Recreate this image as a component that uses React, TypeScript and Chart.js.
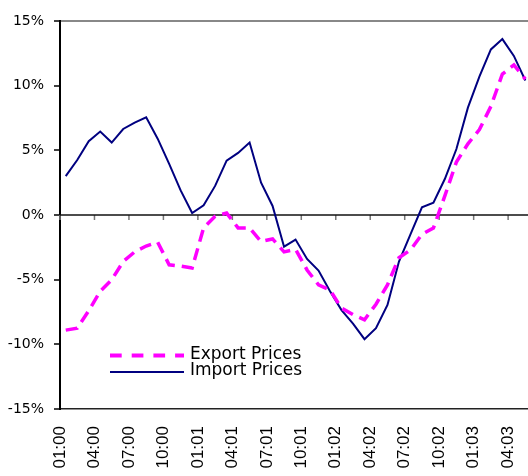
import React, { useEffect, useRef } from "react";
import { Chart, registerables } from "chart.js";

Chart.register(...registerables);

const months = [
  "01:00", "02:00", "03:00", "04:00", "05:00", "06:00", "07:00", "08:00", "09:00", "10:00", "11:00", "12:00",
  "01:01", "02:01", "03:01", "04:01", "05:01", "06:01", "07:01", "08:01", "09:01", "10:01", "11:01", "12:01",
  "01:02", "02:02", "03:02", "04:02", "05:02", "06:02", "07:02", "08:02", "09:02", "10:02", "11:02", "12:02",
  "01:03", "02:03", "03:03", "04:03", "05:03",
];

const tickMonths = [
  "01:00", "04:00", "07:00", "10:00", "01:01", "04:01", "07:01",
  "10:01", "01:02", "04:02", "07:02", "10:02", "01:03", "04:03",
];

const yTicks = [-15, -10, -5, 0, 5, 10, 15];

const exportPrices = [
  -8.9, -8.75, -7.4, -5.9, -5.0, -3.6, -2.85, -2.4, -2.1, -3.85, -3.95, -4.1,
  -1.0, -0.1, 0.15, -1.0, -1.0, -2.05, -1.85, -2.85, -2.65, -4.25, -5.4, -5.8,
  -7.2, -7.7, -8.1, -6.9, -5.4, -3.3, -2.7, -1.5, -1.0, 1.5, 4.1, 5.5,
  6.6, 8.4, 10.9, 11.6, 10.5,
];

const importPrices = [
  3.0, 4.25, 5.7, 6.45, 5.6, 6.65, 7.15, 7.55, 5.9, 3.95, 1.9, 0.15,
  0.75, 2.25, 4.2, 4.8, 5.6, 2.5, 0.7, -2.45, -1.9, -3.4, -4.3, -5.9,
  -7.35, -8.4, -9.6, -8.75, -6.95, -3.6, -1.5, 0.6, 0.95, 2.8, 5.1, 8.3,
  10.7, 12.8, 13.6, 12.3, 10.4,
];

const seriesNames = ["Export Prices", "Import Prices"];

export default function App() {
  const ref = useRef<HTMLCanvasElement>(null);

  useEffect(() => {
    const canvas = ref.current;
    if (!canvas) return;
    const tickValues = tickMonths.map((l) => months.indexOf(l) - 0.5);

    const zeroLine = {
      id: "zeroLine",
      beforeDatasetsDraw(chart: any) {
        const { ctx, chartArea, scales } = chart;
        const y0 = scales.y.getPixelForValue(0);
        ctx.save();
        ctx.strokeStyle = "#777";
        ctx.lineWidth = 1.5;
        ctx.beginPath();
        for (const v of tickValues) {
          const x = scales.x.getPixelForValue(v);
          ctx.moveTo(x, y0);
          ctx.lineTo(x, y0 + 5);
        }
        ctx.stroke();
        ctx.strokeStyle = "#111";
        ctx.lineWidth = 1.5;
        ctx.beginPath();
        ctx.moveTo(chartArea.left, y0);
        ctx.lineTo(chartArea.right, y0);
        ctx.stroke();
        ctx.restore();
      },
    };

    const legendPlugin = {
      id: "customLegend",
      afterDraw(chart: any) {
        const ctx = chart.ctx;
        const ds = chart.data.datasets;
        ctx.save();
        ctx.lineCap = "butt";
        ctx.strokeStyle = ds[0].borderColor;
        ctx.lineWidth = 4;
        ctx.setLineDash([11.7, 10]);
        ctx.beginPath();
        ctx.moveTo(110, 355.5);
        ctx.lineTo(184, 355.5);
        ctx.stroke();
        ctx.setLineDash([]);
        ctx.strokeStyle = ds[1].borderColor;
        ctx.lineWidth = 2;
        ctx.beginPath();
        ctx.moveTo(110, 372);
        ctx.lineTo(184, 372);
        ctx.stroke();
        ctx.fillStyle = "#000";
        ctx.font = '17px "DejaVu Sans"';
        ctx.textAlign = "left";
        ctx.textBaseline = "alphabetic";
        ctx.fillText(ds[0].label, 190, 359);
        ctx.fillText(ds[1].label, 190, 375);
        ctx.restore();
      },
    };

    const chart = new Chart(canvas, {
      type: "line",
      data: {
        datasets: [
          {
            label: seriesNames[0],
            data: exportPrices.map((v, i) => ({ x: i, y: v })),
            borderColor: "#FF00FF",
            borderWidth: 3.5,
            borderDash: [12, 7],
            pointRadius: 0,
            fill: false,
          },
          {
            label: seriesNames[1],
            data: importPrices.map((v, i) => ({ x: i, y: v })),
            borderColor: "#000080",
            borderWidth: 2,
            pointRadius: 0,
            fill: false,
          },
        ],
      },
      options: {
        animation: false,
        responsive: false,
        layout: { padding: { top: 21, left: 0, right: 0, bottom: 0 } },
        plugins: { legend: { display: false }, tooltip: { enabled: false } },
        elements: { line: { tension: 0 } },
        scales: {
          x: {
            type: "linear",
            min: -0.5,
            max: 40.23,
            bounds: "data",
            afterBuildTicks: (s: any) => {
              s.ticks = tickValues.map((v) => ({ value: v }));
            },
            afterFit: (s: any) => {
              s.height = 67;
              s.paddingLeft = 0;
              s.paddingRight = 0;
            },
            grid: {
              display: true,
              drawOnChartArea: false,
              drawTicks: false,
              color: "rgba(0,0,0,0)",
            },
            border: { display: true, color: "#222", width: 1.5 },
            ticks: {
              autoSkip: false,
              minRotation: 90,
              maxRotation: 90,
              padding: 17,
              color: "#000",
              font: { family: '"Liberation Sans", Arial, sans-serif', size: 17 },
              callback: (v: any) => months[Math.round(Number(v) + 0.5)] ?? "",
            },
          },
          y: {
            type: "linear",
            min: yTicks[0],
            max: yTicks[yTicks.length - 1],
            afterBuildTicks: (s: any) => {
              s.ticks = yTicks.map((v) => ({ value: v }));
            },
            afterFit: (s: any) => {
              s.width = 60;
            },
            ticks: {
              padding: 10,
              color: "#000",
              font: { family: '"DejaVu Sans"', size: 14 },
              callback: (v: any) => v + "%",
            },
            grid: {
              color: (c: any) => (c.tick && c.tick.value === 15 ? "#888" : "rgba(0,0,0,0)"),
              lineWidth: 2,
              tickColor: "#000",
              tickWidth: 1.5,
              tickLength: 6,
              drawTicks: true,
            },
            border: { display: true, color: "#000", width: 2 },
          },
        },
      },
      plugins: [zeroLine, legendPlugin],
    } as any);

    return () => chart.destroy();
  }, []);

  return (
    <div style={{ position: "fixed", left: 0, top: 0, width: 528, height: 476, background: "#fff" }}>
      <canvas ref={ref} width={528} height={476} />
    </div>
  );
}
